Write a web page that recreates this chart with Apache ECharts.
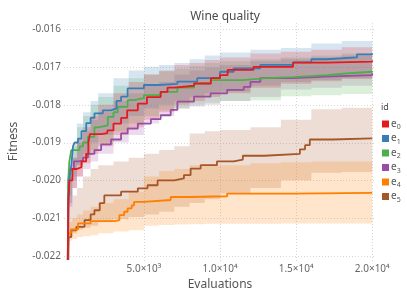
<!DOCTYPE html>
<html><head><meta charset="utf-8">
<script src="https://cdn.jsdelivr.net/npm/echarts@6/dist/echarts.min.js"></script>
<style>html,body{margin:0;padding:0;background:#fff}#c{width:407px;height:305px}</style>
</head><body><div id="c"></div>
<script>
// ---- data ----
const seriesNames = ['e0','e1','e2','e3','e4','e5'];
const colors = ['#e41a1c','#377eb8','#4daf4a','#984ea3','#ff7f00','#a65628'];
const xTicks = [5000, 10000, 15000, 20000];
const xTickLabels = ['5.0×10³','1.0×10⁴','1.5×10⁴','2.0×10⁴'];
const yTicks = [-0.022,-0.021,-0.020,-0.019,-0.018,-0.017,-0.016];

// median lines
const e0X = [0,30,100,300,600,900,1200,1350,1450,2200,2600,3000,3500,3900,4600,5200,6100,6550,7000,8300,9400,10000,10500,12200,14800,17000,20000];
const e0Y = [-0.0221,-0.0205,-0.0200,-0.0197,-0.01965,-0.0195,-0.0193,-0.0190,-0.01878,-0.01875,-0.01868,-0.0185,-0.01835,-0.01815,-0.01797,-0.0178,-0.01766,-0.01755,-0.0175,-0.01744,-0.0173,-0.01722,-0.01708,-0.0170,-0.01689,-0.01686,-0.01683];
const e1X = [0,40,100,230,340,450,670,900,1210,1500,1750,2300,2840,3200,3500,3930,5000,6000,7200,8500,10000,10900,12650,14800,16000,17000,19000,20000];
const e1Y = [-0.0221,-0.0208,-0.0200,-0.0196,-0.0191,-0.0190,-0.0189,-0.0187,-0.01849,-0.01835,-0.01823,-0.01815,-0.0181,-0.0179,-0.01779,-0.01757,-0.01748,-0.01745,-0.01739,-0.0173,-0.01713,-0.01704,-0.01695,-0.01688,-0.0168,-0.01675,-0.01667,-0.01664];
const e2X = [0,30,100,230,770,1000,1320,1750,2000,2630,3000,3280,3930,4350,5000,6100,7200,8300,9400,11500,13000,14800,17000,18500,20000];
const e2Y = [-0.0221,-0.0200,-0.0195,-0.0192,-0.0191,-0.0190,-0.01885,-0.0186,-0.01855,-0.01832,-0.0182,-0.01806,-0.01788,-0.01783,-0.01775,-0.01766,-0.01755,-0.01744,-0.01735,-0.0173,-0.01727,-0.01722,-0.01717,-0.01713,-0.01711];
const e3X = [0,40,150,400,700,1000,1320,1750,2190,2840,3500,3930,4600,5460,6100,6760,7200,8290,9380,10470,11560,12000,12650,14800,17000,20000];
const e3Y = [-0.0221,-0.0200,-0.0197,-0.0195,-0.01948,-0.0194,-0.0193,-0.0192,-0.01905,-0.01892,-0.01876,-0.01863,-0.0185,-0.01838,-0.01828,-0.01814,-0.01792,-0.01779,-0.0177,-0.01761,-0.01753,-0.0174,-0.0173,-0.01726,-0.01722,-0.01717];
const e4X = [0,40,200,670,1500,3060,3390,3700,3930,4200,4350,5000,6760,8000,10470,14800,20000];
const e4Y = [-0.0221,-0.0214,-0.0213,-0.02114,-0.02108,-0.02105,-0.02092,-0.02083,-0.02074,-0.02066,-0.02057,-0.02052,-0.02044,-0.02042,-0.02035,-0.02033,-0.02032];
const e5X = [0,50,230,560,1100,1500,1750,2100,2400,3500,4600,5240,5900,7000,7630,8070,8730,9800,10900,11500,12900,15250,15590,15900,17400,20000];
const e5Y = [-0.0221,-0.0215,-0.02132,-0.02123,-0.02105,-0.0209,-0.02079,-0.0206,-0.0204,-0.0203,-0.02021,-0.02013,-0.0200,-0.01995,-0.01986,-0.01969,-0.0196,-0.0195,-0.01945,-0.01935,-0.0193,-0.01918,-0.01907,-0.01892,-0.01889,-0.01888];

// quantile bands (shared evaluation grid)
const bandX = [0,100,300,600,1000,1500,2000,3000,4000,5000,6000,7000,8000,9000,10000,12000,14000,16000,18000,20000];
const e0Lo = [-0.0221,-0.0207,-0.0202,-0.0199,-0.01955,-0.0193,-0.0191,-0.0188,-0.0186,-0.0184,-0.0182,-0.0180,-0.0179,-0.0178,-0.0177,-0.01755,-0.01745,-0.01738,-0.01732,-0.0173];
const e0Hi = [-0.0208,-0.0199,-0.0194,-0.0189,-0.0186,-0.0183,-0.0180,-0.0177,-0.0174,-0.0172,-0.0171,-0.01695,-0.0169,-0.01682,-0.01675,-0.01665,-0.0166,-0.01655,-0.01648,-0.01643];
const e1Lo = [-0.0221,-0.0206,-0.0200,-0.0196,-0.0193,-0.0190,-0.0188,-0.0185,-0.0183,-0.0181,-0.0180,-0.0179,-0.0178,-0.0177,-0.01765,-0.0175,-0.0174,-0.01735,-0.0173,-0.01728];
const e1Hi = [-0.0205,-0.0196,-0.0190,-0.0185,-0.0182,-0.0179,-0.0177,-0.0173,-0.0171,-0.0170,-0.01695,-0.0169,-0.0168,-0.0167,-0.01662,-0.01655,-0.0165,-0.01638,-0.01632,-0.01628];
const e2Lo = [-0.0221,-0.0204,-0.0199,-0.0196,-0.0194,-0.0192,-0.0190,-0.0187,-0.0185,-0.0183,-0.01815,-0.0181,-0.0180,-0.01795,-0.0179,-0.01788,-0.01778,-0.01775,-0.01772,-0.0177];
const e2Hi = [-0.0206,-0.0197,-0.0191,-0.0186,-0.0183,-0.0180,-0.0178,-0.0175,-0.0173,-0.0172,-0.01712,-0.01705,-0.01698,-0.0169,-0.01685,-0.0168,-0.01675,-0.0167,-0.01665,-0.0166];
const e3Lo = [-0.0221,-0.0207,-0.0202,-0.0199,-0.0197,-0.0195,-0.0193,-0.0190,-0.0188,-0.0185,-0.0183,-0.0181,-0.01805,-0.0180,-0.0179,-0.0178,-0.0176,-0.01755,-0.0175,-0.0175];
const e3Hi = [-0.0207,-0.0199,-0.0194,-0.0190,-0.0187,-0.0184,-0.0182,-0.0179,-0.0177,-0.0175,-0.0174,-0.0172,-0.0171,-0.01702,-0.01695,-0.01685,-0.0168,-0.01675,-0.0167,-0.01667];
const e4Lo = [-0.0221,-0.0216,-0.02155,-0.0215,-0.02148,-0.02145,-0.0214,-0.02135,-0.02132,-0.0212,-0.02118,-0.02117,-0.02116,-0.02115,-0.02115,-0.02115,-0.02114,-0.02114,-0.02114,-0.02114];
const e4Hi = [-0.0213,-0.0211,-0.0210,-0.0209,-0.0208,-0.0207,-0.0206,-0.0205,-0.0203,-0.0199,-0.01975,-0.0197,-0.0196,-0.0196,-0.0196,-0.01955,-0.01952,-0.0195,-0.0195,-0.0195];
const e5Lo = [-0.0221,-0.0215,-0.0214,-0.0213,-0.02125,-0.0212,-0.0211,-0.02102,-0.02097,-0.0209,-0.02083,-0.0207,-0.0206,-0.0205,-0.02035,-0.0202,-0.0200,-0.0198,-0.01978,-0.01978];
const e5Hi = [-0.0212,-0.0207,-0.0204,-0.0202,-0.0199,-0.0197,-0.0196,-0.0195,-0.0194,-0.0193,-0.0192,-0.0191,-0.01876,-0.0187,-0.01867,-0.0186,-0.0184,-0.01812,-0.01808,-0.01805];

const lineX = [e0X,e1X,e2X,e3X,e4X,e5X];
const lineY = [e0Y,e1Y,e2Y,e3Y,e4Y,e5Y];
const bandLo = [e0Lo,e1Lo,e2Lo,e3Lo,e4Lo,e5Lo];
const bandHi = [e0Hi,e1Hi,e2Hi,e3Hi,e4Hi,e5Hi];

// ---- chart ----
const FONT = 'Noto Sans';
const X_MIN = -250, X_MAX = 20250, Y_MIN = -0.022132, Y_MAX = -0.015815;
const chart = echarts.init(document.getElementById('c'), null, {renderer:'canvas'});
const series = [];

// dotted grid lines at the tick values
series.push({
  type:'custom', name:'gridlines', silent:true, z:0,
  data:[[0, Y_MIN]], encode:{x:0, y:1},
  renderItem:function(params, api){
    const children = [];
    const st = {stroke:'#d6d6d6', lineWidth:1, lineDash:[1,2]};
    xTicks.forEach(v => {
      const a = api.coord([v, Y_MIN]), b = api.coord([v, Y_MAX]);
      const x = Math.round(a[0]) + 0.5;
      children.push({type:'line', shape:{x1:x, y1:a[1], x2:x, y2:b[1]}, style:st});
    });
    yTicks.forEach(v => {
      const a = api.coord([X_MIN, v]), b = api.coord([X_MAX, v]);
      const y = Math.round(a[1]) + 0.5;
      children.push({type:'line', shape:{x1:a[0], y1:y, x2:b[0], y2:y}, style:st});
    });
    return {type:'group', children:children};
  }
});

const order = [5,4,3,2,1,0];
order.forEach(k => {
  const lo = bandLo[k], hi = bandHi[k];
  series.push({
    type:'custom', name:'band'+k, silent:true, z:1,
    data: bandX.map((x,i)=>[x, lo[i], hi[i]]),
    encode:{x:0, y:[1,2]},
    renderItem:function(params, api){
      if (params.dataIndex !== 0) return null;
      const pts = [];
      const n = bandX.length;
      for (let i=0;i<n;i++){
        pts.push(api.coord([bandX[i], hi[i]]));
        if (i<n-1) pts.push(api.coord([bandX[i+1], hi[i]]));
      }
      for (let i=n-1;i>=0;i--){
        if (i<n-1) pts.push(api.coord([bandX[i+1], lo[i]]));
        pts.push(api.coord([bandX[i], lo[i]]));
      }
      return {type:'polygon', shape:{points:pts}, style:{fill:colors[k], opacity:0.2}};
    }
  });
});
order.forEach(k => {
  series.push({
    type:'line', name:seriesNames[k], step:'end', symbol:'none', z:3,
    data: lineX[k].map((x,i)=>[x, lineY[k][i]]),
    lineStyle:{color:colors[k], width:1.8}, itemStyle:{color:colors[k]}
  });
});

chart.setOption({
  animation:false,
  backgroundColor:'#fff',
  title:[
    {text:'Wine quality', left:220, top:6, textAlign:'center',
     textStyle:{fontFamily:FONT, fontSize:12, fontWeight:'normal', color:'#4a4a4a'}},
    {text:'id', left:376, top:98,
     textStyle:{fontFamily:FONT, fontSize:9, fontWeight:'normal', color:'#4a4a4a'}}
  ],
  legend:{
    orient:'vertical', left:377, top:114, itemWidth:7, itemHeight:7, itemGap:3,
    icon:'rect', data:seriesNames,
    formatter: n => 'e{sub|'+n.slice(1)+'}',
    textStyle:{fontFamily:FONT, fontSize:10, color:'#555', padding:[0,0,0,-3],
      rich:{sub:{fontFamily:FONT, fontSize:7, color:'#555', padding:[6,0,0,0]}}}
  },
  grid:{left:63, right:31, top:22, bottom:44},
  xAxis:{
    type:'value', min:X_MIN, max:X_MAX,
    name:'Evaluations', nameLocation:'middle', nameGap:16,
    nameTextStyle:{fontFamily:FONT, fontSize:12, color:'#555'},
    axisLine:{show:false},
    axisTick:{show:false, customValues:xTicks},
    axisLabel:{customValues:xTicks, margin:3, fontFamily:FONT, fontSize:10, color:'#666',
      formatter: v => xTickLabels[xTicks.indexOf(v)]},
    splitLine:{show:false}
  },
  yAxis:{
    type:'value', min:Y_MIN, max:Y_MAX,
    name:'Fitness', nameLocation:'middle', nameGap:44,
    nameTextStyle:{fontFamily:FONT, fontSize:12, color:'#555'},
    axisLine:{show:false},
    axisTick:{show:false, customValues:yTicks},
    axisLabel:{customValues:yTicks, margin:3, fontFamily:FONT, fontSize:10, color:'#666',
      formatter: v => v.toFixed(3)},
    splitLine:{show:false}
  },
  series: series
});
</script></body></html>
